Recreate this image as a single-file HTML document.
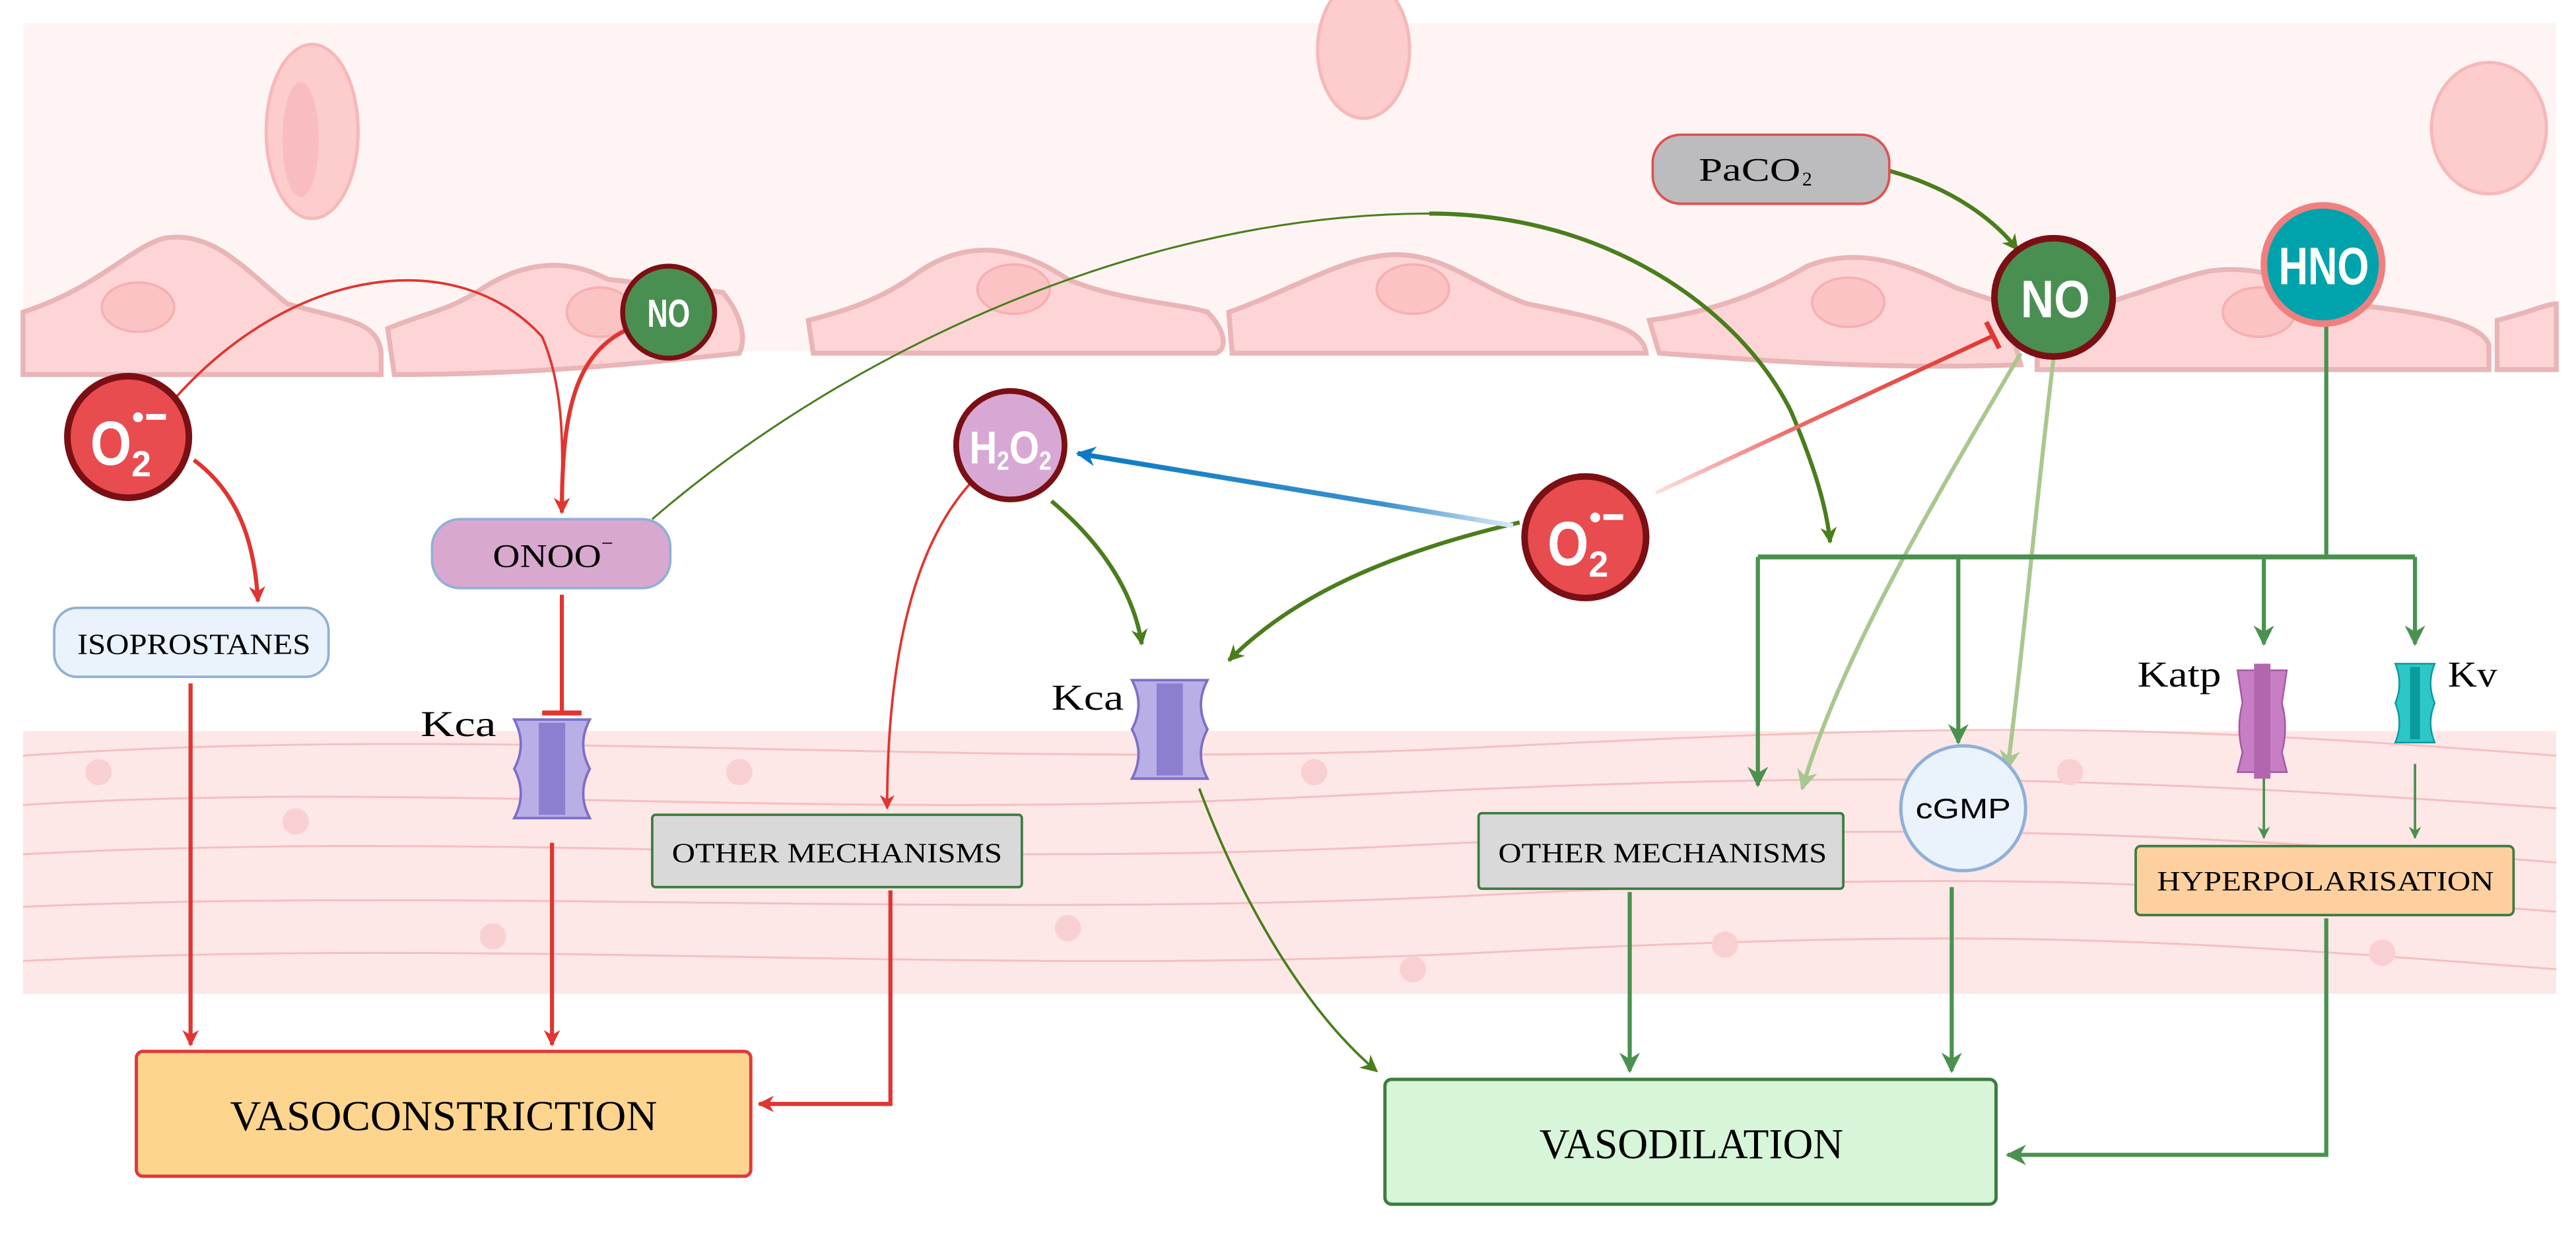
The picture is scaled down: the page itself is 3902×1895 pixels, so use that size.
<!DOCTYPE html>
<html><head><meta charset="utf-8"><style>
html,body{margin:0;padding:0;background:#fff}
svg{display:block}
.serif{font-family:"Liberation Serif",serif}
.sans{font-family:"Liberation Sans",sans-serif;font-weight:bold}
</style></head><body>
<svg width="3902" height="1895" viewBox="0 0 1568 761.5" xmlns="http://www.w3.org/2000/svg">
<defs>
<marker id="ar" viewBox="0 0 10 10" refX="9" refY="5" markerWidth="4" markerHeight="4" orient="auto"><path d="M0,0L10,5L0,10L3,5z" fill="#e03530"/></marker>
<marker id="ar2" viewBox="0 0 10 10" refX="9" refY="5" markerWidth="6" markerHeight="6" orient="auto"><path d="M0,0L10,5L0,10L3,5z" fill="#e03530"/></marker>
<marker id="ag" viewBox="0 0 10 10" refX="9" refY="5" markerWidth="4" markerHeight="4" orient="auto"><path d="M0,0L10,5L0,10L3,5z" fill="#4a7d1c"/></marker>
<marker id="ag3" viewBox="0 0 10 10" refX="9" refY="5" markerWidth="7" markerHeight="7" orient="auto"><path d="M0,0L10,5L0,10L3,5z" fill="#4a7d1c"/></marker>
<marker id="ag2" viewBox="0 0 10 10" refX="9" refY="5" markerWidth="5" markerHeight="5" orient="auto"><path d="M0,0L10,5L0,10L3,5z" fill="#4a9150"/></marker>
<marker id="agl" viewBox="0 0 10 10" refX="9" refY="5" markerWidth="5" markerHeight="5" orient="auto"><path d="M0,0L10,5L0,10L3,5z" fill="#a9c78f"/></marker>
<marker id="ab" viewBox="0 0 10 10" refX="9" refY="5" markerWidth="4" markerHeight="4" orient="auto"><path d="M0,0L10,5L0,10L3,5z" fill="#0a7ac4"/></marker>
<linearGradient id="gb" x1="0" x2="1"><stop offset="0" stop-color="#0a7ac4"/><stop offset="0.7" stop-color="#3a90cc"/><stop offset="1" stop-color="#dceaf6"/></linearGradient>
<linearGradient id="gr" x1="0" y1="1" x2="1" y2="0"><stop offset="0" stop-color="#fde0e0"/><stop offset="0.4" stop-color="#ef6a66"/><stop offset="1" stop-color="#e03530"/></linearGradient>
</defs>
<rect x="14" y="14" width="1542" height="734" fill="#fff"/>
<rect x="14" y="14" width="1542" height="200" fill="#fff4f4"/>
<ellipse cx="190" cy="80" rx="28" ry="53" fill="#fdcccc" stroke="#f7b8ba" stroke-width="2"/>
<ellipse cx="183" cy="85" rx="11" ry="35" fill="#f9bcc1"/>
<ellipse cx="830" cy="30" rx="28" ry="42" fill="#fdcccc" stroke="#f7b8ba" stroke-width="2"/>
<ellipse cx="1515" cy="78" rx="35" ry="40" fill="#fdcccc" stroke="#f7b8ba" stroke-width="2"/>
<g fill="#fdd5d6" stroke="#e9b5b7" stroke-width="3">
<path d="M14,190 C60,175 80,150 100,145 C130,140 150,165 175,185 C210,195 230,195 232,215 L232,228 L14,228Z"/>
<path d="M236,200 C260,190 270,190 290,178 C330,150 360,165 370,170 L440,178 C450,190 455,205 450,215 C400,220 330,228 240,228Z"/>
<path d="M492,195 C520,188 540,180 560,165 C590,145 620,150 650,170 C680,183 720,185 735,190 C745,200 748,212 740,215 L495,215Z"/>
<path d="M748,190 C790,175 820,155 850,155 C880,155 900,175 930,185 C980,195 1000,200 1002,215 L750,215Z"/>
<path d="M1004,195 C1040,190 1070,180 1100,162 C1130,150 1160,160 1190,175 L1220,185 L1230,222 C1150,225 1080,220 1010,215Z"/>
<path d="M1240,195 C1290,185 1320,170 1345,165 C1380,160 1400,175 1430,185 C1470,190 1510,195 1515,210 L1515,225 L1240,225Z"/>
<path d="M1520,195 C1540,190 1550,185 1556,185 L1556,225 L1520,225Z"/>
</g>
<g fill="#fcc3c4" stroke="#f6b0b2" stroke-width="1.5">
<ellipse cx="84" cy="187" rx="22" ry="15"/><ellipse cx="365" cy="190" rx="20" ry="15"/>
<ellipse cx="617" cy="176" rx="22" ry="15"/><ellipse cx="860" cy="176" rx="22" ry="15"/>
<ellipse cx="1125" cy="184" rx="22" ry="15"/><ellipse cx="1375" cy="190" rx="22" ry="15"/>
</g>
<rect x="14" y="445" width="1542" height="160" fill="#fde7e7"/>
<g fill="none" stroke="#f2b6b8" stroke-width="1.2" opacity="0.8">
<path d="M14,460 C300,440 600,470 900,455 S1300,440 1556,460"/>
<path d="M14,490 C250,475 500,500 800,485 S1250,470 1556,492"/>
<path d="M14,520 C300,505 550,530 850,515 S1300,505 1556,525"/>
<path d="M14,552 C280,540 600,560 900,545 S1300,535 1556,555"/>
<path d="M14,585 C300,570 600,595 900,580 S1300,570 1556,590"/>
</g>
<g fill="#f9d0d2">
<circle cx="60" cy="470" r="8"/><circle cx="180" cy="500" r="8"/><circle cx="450" cy="470" r="8"/><circle cx="650" cy="565" r="8"/><circle cx="800" cy="470" r="8"/><circle cx="1050" cy="575" r="8"/><circle cx="1260" cy="470" r="8"/><circle cx="1450" cy="580" r="8"/><circle cx="300" cy="570" r="8"/><circle cx="860" cy="590" r="8"/>
</g>
<g fill="none" stroke-width="2.5">
<path d="M106,243 C180,160 280,150 330,205 C345,240 342,280 342,312" stroke="#e03530" stroke-width="1.5" marker-end="url(#ar2)"/>
<path d="M383,200 C350,215 342,250 342,312" stroke="#e03530" marker-end="url(#ar)"/>
<path d="M118,280 C145,300 155,330 157,366" stroke="#e03530" marker-end="url(#ar)"/>
<path d="M342,362 L342,434" stroke="#e03530"/>
<path d="M330,434 L354,434" stroke="#e03530" stroke-width="3"/>
<path d="M116,416 L116,636" stroke="#e03530" marker-end="url(#ar)"/>
<path d="M336,513 L336,636" stroke="#e03530" marker-end="url(#ar)"/>
<path d="M542,542 L542,672 L462,672" stroke="#e03530" marker-end="url(#ar)"/>
<path d="M590,295 C550,340 540,420 540,492" stroke="#e03530" stroke-width="1.5" marker-end="url(#ar2)"/>
<path d="M397,316 C520,210 700,130 870,130" stroke="#4a7d1c" stroke-width="1.2"/>
<path d="M870,130 C980,130 1060,190 1090,250 C1105,285 1112,310 1114,330" stroke="#4a7d1c" stroke-width="2.5" marker-end="url(#ag)"/>
<path d="M640,305 C670,330 690,360 695,392" stroke="#4a7d1c" marker-end="url(#ag)"/>
<path d="M925,318 C830,340 780,370 748,402" stroke="#4a7d1c" marker-end="url(#ag)"/>
<path d="M921,320 L656,276" stroke="url(#gb)" stroke-width="3" marker-end="url(#ab)"/>
<path d="M1008,300 L1214,204" stroke="url(#gr)"/>
<path d="M1209,196 L1217,212" stroke="#e03530" stroke-width="3"/>
<path d="M1150,104 C1190,115 1215,135 1228,152" stroke="#4a7d1c" marker-end="url(#ag)"/>
<path d="M730,480 C760,560 800,620 838,652" stroke="#4a7d1c" stroke-width="1.5" marker-end="url(#ag3)"/>
<path d="M1230,215 C1180,300 1120,400 1097,480" stroke="#a9c78f" stroke-width="2.5" marker-end="url(#agl)"/>
<path d="M1250,218 C1240,300 1232,390 1222,468" stroke="#a9c78f" stroke-width="2.5" marker-end="url(#agl)"/>
<g stroke="#4a9150">
<path d="M1416,198 L1416,339"/>
<path d="M1070,339 L1470,339" stroke-width="3"/>
<path d="M1070,339 L1070,478" marker-end="url(#ag2)"/>
<path d="M1192,339 L1192,452" marker-end="url(#ag2)"/>
<path d="M1378,339 L1378,392" marker-end="url(#ag2)"/>
<path d="M1470,339 L1470,392" marker-end="url(#ag2)"/>
<path d="M1378,470 L1378,510" stroke-width="1.5" marker-end="url(#ag2)"/>
<path d="M1470,465 L1470,510" stroke-width="1.5" marker-end="url(#ag2)"/>
<path d="M992,543 L992,652" marker-end="url(#ag2)"/>
<path d="M1188,540 L1188,652" marker-end="url(#ag2)"/>
<path d="M1416,559 L1416,703 L1222,703" marker-end="url(#ag2)"/>
</g>
</g>
<rect x="263" y="316" width="145" height="42" rx="17" fill="#d8a8cf" stroke="#8fb0d8" stroke-width="1.5"/>
<text x="300" y="345" class="serif" font-size="20" textLength="66" lengthAdjust="spacingAndGlyphs">ONOO</text><text x="366" y="335" class="serif" font-size="13">−</text>
<rect x="33" y="370" width="167" height="42" rx="14" fill="#eaf3fc" stroke="#8fb0d8" stroke-width="1.5"/>
<text x="47" y="398" class="serif" font-size="18" textLength="142" lengthAdjust="spacingAndGlyphs">ISOPROSTANES</text>
<rect x="397" y="496" width="225" height="44" rx="2" fill="#d9d9d9" stroke="#3d7c3f" stroke-width="1.5"/>
<text x="409" y="525" class="serif" font-size="17" textLength="201" lengthAdjust="spacingAndGlyphs">OTHER MECHANISMS</text>
<rect x="900" y="495" width="222" height="46" rx="2" fill="#d9d9d9" stroke="#3d7c3f" stroke-width="1.5"/>
<text x="912" y="525" class="serif" font-size="17" textLength="200" lengthAdjust="spacingAndGlyphs">OTHER MECHANISMS</text>
<rect x="83" y="640" width="374" height="76" rx="4" fill="#fed58e" stroke="#e03a3a" stroke-width="2"/>
<text x="140" y="688" class="serif" font-size="26" textLength="260" lengthAdjust="spacingAndGlyphs">VASOCONSTRICTION</text>
<rect x="843" y="657" width="372" height="76" rx="4" fill="#d7f5d8" stroke="#3d7c3f" stroke-width="2"/>
<text x="937" y="705" class="serif" font-size="26" textLength="185" lengthAdjust="spacingAndGlyphs">VASODILATION</text>
<rect x="1300" y="515" width="230" height="42" rx="3" fill="#fed0a0" stroke="#3d7c3f" stroke-width="1.5"/>
<text x="1313" y="542" class="serif" font-size="17" textLength="205" lengthAdjust="spacingAndGlyphs">HYPERPOLARISATION</text>
<rect x="1006" y="82" width="144" height="42" rx="17" fill="#bcbcbe" stroke="#e05050" stroke-width="1.5"/>
<text x="1034" y="110" class="serif" font-size="20" textLength="62" lengthAdjust="spacingAndGlyphs">PaCO</text><text x="1097" y="113" class="serif" font-size="12">2</text>
<circle cx="1195" cy="492" r="38" fill="#eaf3fc" stroke="#8fb0d8" stroke-width="2"/>
<text x="1166" y="498" font-family="Liberation Sans,sans-serif" font-size="17" textLength="58" lengthAdjust="spacingAndGlyphs">cGMP</text>
<g>
<path d="M313,438 h46 q-8,15 0,30 q-8,15 0,30 h-46 q8,-15 0,-30 q8,-15 0,-30z" fill="#b9aee6" stroke="#7d6fc4" stroke-width="1.5"/>
<rect x="328" y="440" width="16" height="56" fill="#8c7fd0"/>
<path d="M689,414 h46 q-8,15 0,30 q-8,15 0,30 h-46 q8,-15 0,-30 q8,-15 0,-30z" fill="#b9aee6" stroke="#7d6fc4" stroke-width="1.5"/>
<rect x="704" y="416" width="16" height="56" fill="#8c7fd0"/>
<path d="M1362,408 h30 l-3,20 q4,15 0,30 l3,12 h-30 l3,-12 q-4,-15 0,-30z" fill="#c77ec4" stroke="#a35aa0" stroke-width="1"/>
<rect x="1372" y="404" width="10" height="70" fill="#b266ae"/>
<path d="M1458,404 h24 q-5,12 0,24 q-5,12 0,24 h-24 q5,-12 0,-24 q5,-12 0,-24z" fill="#2ec7c7" stroke="#0b9a9e" stroke-width="1"/>
<rect x="1467" y="406" width="6" height="44" fill="#0b9a9e"/>
</g>
<text x="256" y="448" class="serif" font-size="22" textLength="46" lengthAdjust="spacingAndGlyphs">Kca</text>
<text x="640" y="432" class="serif" font-size="22" textLength="44" lengthAdjust="spacingAndGlyphs">Kca</text>
<text x="1301" y="418" class="serif" font-size="22" textLength="51" lengthAdjust="spacingAndGlyphs">Katp</text>
<text x="1490" y="418" class="serif" font-size="22" textLength="30" lengthAdjust="spacingAndGlyphs">Kv</text>
<circle cx="78" cy="266" r="37" fill="#e84c4f" stroke="#7a0f14" stroke-width="4"/>
<text x="55" y="283" class="sans" font-size="38" fill="#fff" textLength="25" lengthAdjust="spacingAndGlyphs">O</text>
<text x="80" y="290" class="sans" font-size="22" fill="#fff" textLength="12" lengthAdjust="spacingAndGlyphs">2</text>
<circle cx="84" cy="254" r="3" fill="#fff"/><rect x="89" y="252" width="12" height="3.5" fill="#fff"/>
<circle cx="965" cy="327" r="37" fill="#e84c4f" stroke="#7a0f14" stroke-width="4"/>
<text x="942" y="344" class="sans" font-size="38" fill="#fff" textLength="25" lengthAdjust="spacingAndGlyphs">O</text>
<text x="967" y="351" class="sans" font-size="22" fill="#fff" textLength="12" lengthAdjust="spacingAndGlyphs">2</text>
<circle cx="971" cy="315" r="3" fill="#fff"/><rect x="976" y="313" width="12" height="3.5" fill="#fff"/>
<circle cx="407" cy="190" r="28" fill="#4a8f52" stroke="#7a0f14" stroke-width="3"/>
<text x="394" y="199" class="sans" font-size="24" fill="#fff" textLength="26" lengthAdjust="spacingAndGlyphs">NO</text>
<circle cx="1250" cy="181" r="36" fill="#4a8f52" stroke="#7a0f14" stroke-width="4"/>
<text x="1230" y="193" class="sans" font-size="32" fill="#fff" textLength="42" lengthAdjust="spacingAndGlyphs">NO</text>
<circle cx="1414" cy="161" r="36" fill="#00a3ab" stroke="#f08080" stroke-width="4"/>
<text x="1387" y="173" class="sans" font-size="32" fill="#fff" textLength="55" lengthAdjust="spacingAndGlyphs">HNO</text>
<circle cx="615" cy="271" r="33" fill="#d8a8d4" stroke="#7a0f14" stroke-width="3.5"/>
<text x="590" y="282" class="sans" font-size="28" fill="#fff" textLength="50" lengthAdjust="spacingAndGlyphs">H<tspan font-size="16" dy="4">2</tspan><tspan dy="-4">O</tspan><tspan font-size="16" dy="4">2</tspan></text>
</svg>
</body></html>
